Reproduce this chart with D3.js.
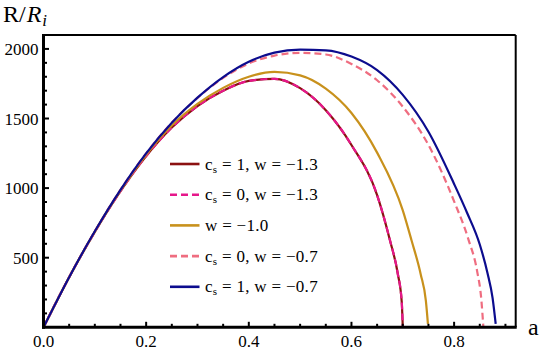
<!DOCTYPE html>
<html>
<head>
<meta charset="utf-8">
<script src="https://cdn.jsdelivr.net/npm/d3@7"></script>
<style>
  body { margin: 0; background: #fff; }
  svg { display: block; }
  .tick-label { font-family: "Liberation Serif", "Times New Roman", serif; font-size: 17px; fill: #000; }
  .legend-text { font-family: "Liberation Serif", "Times New Roman", serif; font-size: 17px; fill: #000; letter-spacing: 0.3px; }
  .axis-title { font-family: "Liberation Serif", "Times New Roman", serif; font-size: 24px; fill: #000; }
</style>
</head>
<body>
<div id="chart"></div>
<script>
// scale factor a on the x axis, R/R_i on the y axis
var aRed = [0, 0.05, 0.1, 0.15, 0.2, 0.25, 0.3, 0.35, 0.4, 0.45, 0.5, 0.55, 0.6, 0.65, 0.675, 0.69, 0.698, 0.7];
var rRed = [0, 360, 686, 978, 1230, 1435, 1590, 1700, 1770, 1785, 1718, 1560, 1310, 950, 625, 390, 180, 0];

var aMagenta = [0, 0.05, 0.1, 0.15, 0.2, 0.25, 0.3, 0.35, 0.4, 0.45, 0.5, 0.55, 0.6, 0.65, 0.675, 0.69, 0.698, 0.7];
var rMagenta = [0, 360, 686, 978, 1230, 1435, 1590, 1700, 1770, 1785, 1718, 1560, 1310, 950, 625, 390, 180, 0];

var aGold = [0, 0.05, 0.1, 0.15, 0.2, 0.25, 0.3, 0.35, 0.4, 0.45, 0.5, 0.55, 0.6, 0.65, 0.7, 0.717, 0.735, 0.745, 0.749];
var rGold = [0, 360, 688, 983, 1240, 1450, 1605, 1720, 1800, 1835, 1810, 1715, 1540, 1255, 840, 625, 380, 190, 25];

var aPink = [0, 0.05, 0.1, 0.15, 0.2, 0.25, 0.3, 0.35, 0.4, 0.45, 0.5, 0.55, 0.6, 0.65, 0.7, 0.75, 0.8, 0.828, 0.845, 0.853, 0.857];
var rPink = [0, 360, 690, 988, 1250, 1470, 1648, 1792, 1895, 1952, 1972, 1960, 1892, 1775, 1585, 1310, 905, 630, 400, 200, 0];

var aBlue = [0, 0.05, 0.1, 0.15, 0.2, 0.25, 0.3, 0.35, 0.4, 0.45, 0.5, 0.55, 0.6, 0.65, 0.7, 0.75, 0.8, 0.825, 0.85, 0.865, 0.875, 0.881];
var rBlue = [0, 360, 690, 988, 1250, 1470, 1650, 1798, 1908, 1973, 1995, 1990, 1945, 1848, 1670, 1405, 1030, 825, 595, 390, 210, 25];

var legendCs = ['1', '0', null, '0', '1'];
var legendW = ['\u22121.3', '\u22121.3', '\u22121.0', '\u22120.7', '\u22120.7'];

var xTickLabels = ['0.0', '0.2', '0.4', '0.6', '0.8'];
var yTickLabels = ['500', '1000', '1500', '2000'];

var series = [
    { a: aRed, r: rRed, clr: '#8b1111', dash: null },
    { a: aMagenta, r: rMagenta, clr: '#e6178a', dash: '7,4' },
    { a: aGold, r: rGold, clr: '#c8911c', dash: null },
    { a: aPink, r: rPink, clr: '#ef6d80', dash: '7,4' },
    { a: aBlue, r: rBlue, clr: '#0c0c8e', dash: null }
];

var W = 540, H = 353;
var svg = d3.select('#chart').append('svg').attr('width', W).attr('height', H);

var x = d3.scaleLinear().domain([0, 0.92]).range([43.5, 515.7]);
var y = d3.scaleLinear().domain([0, 2100]).range([327.3, 35]);

// frame (top / right thin)
svg.append('line').attr('x1', x(0)).attr('x2', x(0.92)).attr('y1', y(2100)).attr('y2', y(2100))
    .style('stroke', '#000').style('stroke-width', 2);
svg.append('line').attr('x1', x(0.92)).attr('x2', x(0.92)).attr('y1', y(2100)).attr('y2', y(0))
    .style('stroke', '#000').style('stroke-width', 2);

// curves
var line = d3.line().curve(d3.curveMonotoneX)
    .x(function(d) { return x(d[0]); })
    .y(function(d) { return y(d[1]); });

series.forEach(function(s) {
    var pts = s.a.map(function(v, i) { return [v, s.r[i]]; });
    svg.append('path')
        .attr('d', line(pts))
        .style('fill', 'none')
        .style('stroke', s.clr)
        .style('stroke-width', 2.2)
        .style('stroke-dasharray', s.dash);
});

// axes (thick, ticks inward)
var gx = svg.append('g').attr('transform', 'translate(0,' + y(0) + ')');
gx.selectAll('line.tk').data(d3.range(0.05, 0.92, 0.05)).enter().append('line')
    .attr('x1', function(d) { return x(d); }).attr('x2', function(d) { return x(d); })
    .attr('y1', 0).attr('y2', function(d, i) { return (i + 1) % 4 === 0 ? -5.5 : -3.5; })
    .style('stroke', '#000').style('stroke-width', 2);
svg.append('line').attr('x1', x(0) - 1.5).attr('x2', x(0.92) + 1).attr('y1', y(0)).attr('y2', y(0))
    .style('stroke', '#000').style('stroke-width', 3);

var gy = svg.append('g');
gy.selectAll('line.tk').data(d3.range(100, 2100, 100)).enter().append('line')
    .attr('y1', function(d) { return y(d); }).attr('y2', function(d) { return y(d); })
    .attr('x1', x(0)).attr('x2', function(d) { return d % 500 === 0 ? x(0) + 5.5 : x(0) + 3.5; })
    .style('stroke', '#000').style('stroke-width', 2);
svg.append('line').attr('x1', x(0)).attr('x2', x(0)).attr('y1', y(2100) - 1).attr('y2', y(0) + 1.5)
    .style('stroke', '#000').style('stroke-width', 3);

// tick labels
svg.selectAll('text.xl').data(xTickLabels).enter().append('text')
    .attr('class', 'tick-label')
    .attr('x', function(d) { return x(+d); })
    .attr('y', 346.5)
    .attr('text-anchor', 'middle')
    .text(function(d) { return d; });

svg.selectAll('text.yl').data(yTickLabels).enter().append('text')
    .attr('class', 'tick-label')
    .attr('x', 38.5)
    .attr('y', function(d) { return y(+d) + 6; })
    .attr('text-anchor', 'end')
    .text(function(d) { return d; });

// axis titles
var yt = svg.append('text').attr('class', 'axis-title').attr('x', 3).attr('y', 22);
yt.append('tspan').text('R/');
yt.append('tspan').style('font-style', 'italic').attr('dx', 1).text('R');
yt.append('tspan').style('font-style', 'italic').style('font-size', '17px').attr('dx', 1).attr('dy', 4).text('i');

svg.append('text').attr('class', 'axis-title').attr('x', 528).attr('y', 335).text('a');

// legend
var lg = svg.append('g').attr('class', 'legend');
series.forEach(function(s, i) {
    var ly = 164 + i * 30.7;
    lg.append('line')
        .attr('x1', 170).attr('x2', 199.5).attr('y1', ly).attr('y2', ly)
        .style('stroke', s.clr).style('stroke-width', 2.6)
        .style('stroke-dasharray', s.dash);
    var t = lg.append('text').attr('class', 'legend-text').attr('x', 205).attr('y', ly + 5.5);
    if (legendCs[i] !== null) {
        t.append('tspan').text('c');
        t.append('tspan').attr('dy', 3).style('font-size', '11px').text('s');
        t.append('tspan').attr('dy', -3).text(' = ' + legendCs[i] + ', ');
    }
    t.append('tspan').text('w = ' + legendW[i]);
});
</script>
</body>
</html>
